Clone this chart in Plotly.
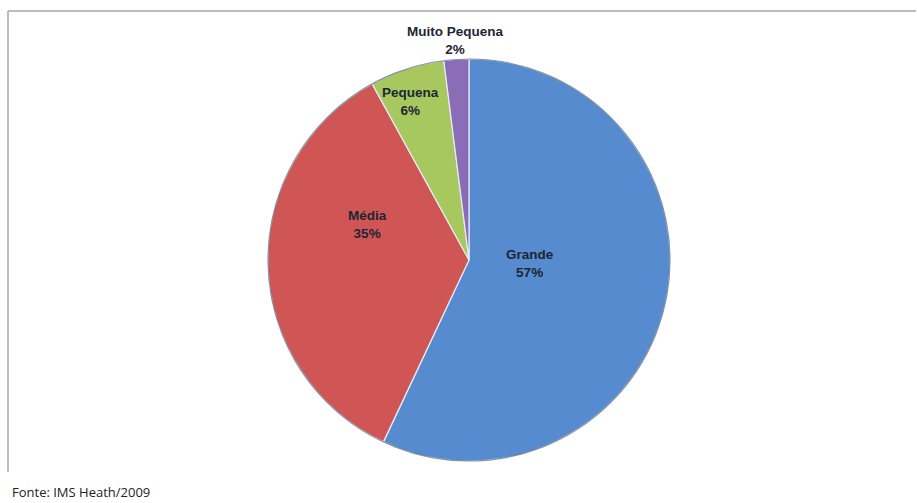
import plotly.graph_objects as go

# Market share by company size
categories = ["Grande", "Média", "Pequena", "Muito Pequena"]
shares = [57, 35, 6, 2]
colors = ["#568BCF", "#CF5654", "#A6C85E", "#8A6DB6"]
source_note = "Fonte: IMS Heath/2009"

W, H = 917, 503
cx, cy, r = 469, 260, 201

# pixel anchor (centre of the two-line label) for each slice's data label
label_anchor = {
    "Grande": (530, 263),
    "Média": (367, 224),
    "Pequena": (410, 101),
    "Muito Pequena": (455, 40),
}

label_font = dict(family="Liberation Sans", size=13.5, color="#1E2533")

fig = go.Figure(
    go.Pie(
        labels=categories,
        values=shares,
        sort=False,
        direction="clockwise",
        rotation=0,
        marker=dict(colors=colors, line=dict(color="#E6ECF5", width=1.2)),
        textinfo="none",
        hoverinfo="label+percent",
        showlegend=False,
        domain=dict(
            x=[(cx - r) / W, (cx + r) / W],
            y=[1 - (cy + r) / H, 1 - (cy - r) / H],
        ),
    )
)

# darker rim around the pie
fig.add_shape(type="circle", xref="paper", yref="paper",
              x0=(cx - r) / W, x1=(cx + r) / W,
              y0=1 - (cy + r) / H, y1=1 - (cy - r) / H,
              line=dict(color="rgba(25,40,70,0.45)", width=1.2))

# data labels: category name above, share below
total = sum(shares)
for cat, val in zip(categories, shares):
    px, py = label_anchor[cat]
    fig.add_annotation(
        text=f"<b>{cat}</b><br><b>{round(100 * val / total)}%</b>",
        xref="paper", yref="paper",
        x=px / W, y=1 - py / H, xanchor="center", yanchor="middle",
        showarrow=False, font=label_font,
    )

# thin frame on the top and left edges
fig.add_shape(type="line", xref="paper", yref="paper",
              x0=8 / W, x1=916 / W, y0=1 - 11 / H, y1=1 - 11 / H,
              line=dict(color="#A6A6A6", width=1.5))
fig.add_shape(type="line", xref="paper", yref="paper",
              x0=8 / W, x1=8 / W, y0=1 - 11 / H, y1=1 - 472 / H,
              line=dict(color="#A6A6A6", width=1.5))

fig.add_annotation(
    text=source_note, xref="paper", yref="paper",
    x=10 / W, y=1 - 492 / H, xanchor="left", yanchor="middle",
    showarrow=False,
    font=dict(family="Open Sans, Liberation Sans, sans-serif", size=13, color="#222222"),
)

fig.update_layout(
    width=W, height=H,
    margin=dict(l=0, r=0, t=0, b=0),
    paper_bgcolor="white",
    plot_bgcolor="white",
)

fig.write_html("out.html")
